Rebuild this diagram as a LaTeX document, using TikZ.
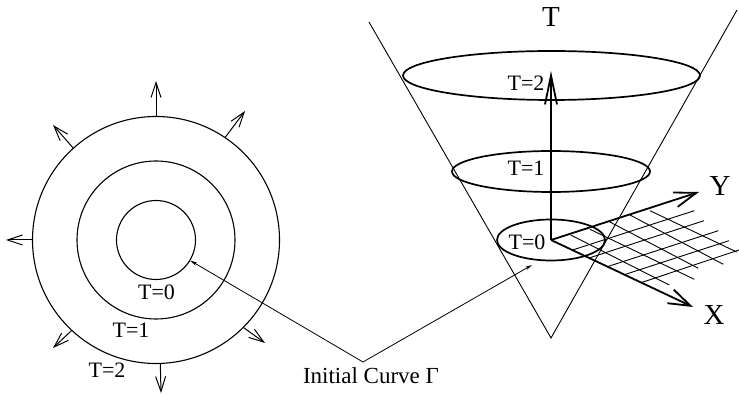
\documentclass[tikz,border=0pt]{standalone}
\usepackage{fontspec}
\setmainfont{Liberation Serif}
\usetikzlibrary{arrows.meta, shapes.geometric}
\begin{document}
\begin{tikzpicture}[x=1pt, y=-1pt,
    curve/.style={draw=black, line width=1.1pt, circle, inner sep=0pt},
    coneLine/.style={draw=black, line width=0.9pt},
    slice/.style={draw=black, line width=1.7pt, ellipse, inner sep=0pt},
    growArrow/.style={draw=black, line width=1pt, -{Straight Barb[length=15pt,width=10pt]}},
    leader/.style={draw=black, line width=0.8pt, -{Stealth[length=7pt,width=3.5pt]}},
    axis/.style={draw=black, line width=1.8pt, -{Straight Barb[length=22pt,width=15pt]}},
    gridLine/.style={draw=black, line width=0.9pt},
    lab/.style={font=\fontsize{22}{22}\selectfont, inner sep=0pt},
    bigLab/.style={font=\fontsize{29}{29}\selectfont, inner sep=0pt},
]
\useasboundingbox (0,0) rectangle (739,395);
% left: circles
\node[curve, minimum size=79pt] (c0) at (156,240) {};
\node[curve, minimum size=158pt] (c1) at (156,240) {};
\node[curve, minimum size=247pt] (c2) at (156,240) {};
\node[lab] (t0) at (156.5,292) {T=0};
\node[lab] (t1) at (131,330) {T=1};
\node[lab] (t2) at (107,370) {T=2};
% outward arrows
\foreach \ang/\tx/\ty in {180/6/240, 132/53/125, 90/156/81, 56/245/111, 227/53/348, 315/265/343, 272/161/393} {
    \coordinate (tip) at (\tx,\ty);
    \draw[growArrow] (c2.\ang) -- (tip);
}
% right: cone
\coordinate (apex) at (551,338);
\coordinate (leftTop) at (369,22);
\coordinate (rightTop) at (737,10);
\draw[coneLine] (leftTop) -- (apex) -- (rightTop);
\node[slice, minimum width=297pt, minimum height=49pt] (e2) at (551.5,75.5) {};
\node[slice, minimum width=198pt, minimum height=41pt] (e1) at (551,171.5) {};
\node[slice, minimum width=108pt, minimum height=41pt] (e0) at (551,240) {};
\node[lab] (s2) at (526,83) {T=2};
\node[lab] (s1) at (526,168) {T=1};
\node[lab] (s0) at (527,242) {T=0};
\node[bigLab] (tAxis) at (551,17) {T};
\node[bigLab] (yAxis) at (720,186) {Y};
\node[bigLab] (xAxis) at (714,315) {X};
% grid
\foreach \xa/\ya/\xb/\yb in {572.5/250/694.3/210.7, 589/258/704/220.7, 607.3/266.7/718.3/230.7, 624.3/274.7/729/240.7, 641/282.7/739/250,
    570.7/235/669.3/285, 590/229.3/694.3/279.3, 609.3/221.7/698.3/268.3, 630/215/723.3/264.3, 650/210.7/736.7/252} {
    \draw[gridLine] (\xa,\ya) -- (\xb,\yb);
}
% axes
\coordinate (origin) at (551,240);
\coordinate (tEnd) at (551,71);
\coordinate (yEnd) at (699,192);
\coordinate (xEnd) at (693,307);
\draw[axis, -{Straight Barb[length=29pt,width=12pt]}] (origin) -- (tEnd);
\draw[axis] (origin) -- (yEnd);
\draw[axis] (origin) -- (xEnd);
% label and leaders
\node[lab, font=\fontsize{23}{23}\selectfont] (initial) at (371,376) {Initial Curve Γ};
\coordinate (fork) at (363,362);
\coordinate (coneTip) at (532,265);
\draw[leader] (fork) -- (c0.-31);
\draw[leader] (fork) -- (coneTip);
\end{tikzpicture}
\end{document}
